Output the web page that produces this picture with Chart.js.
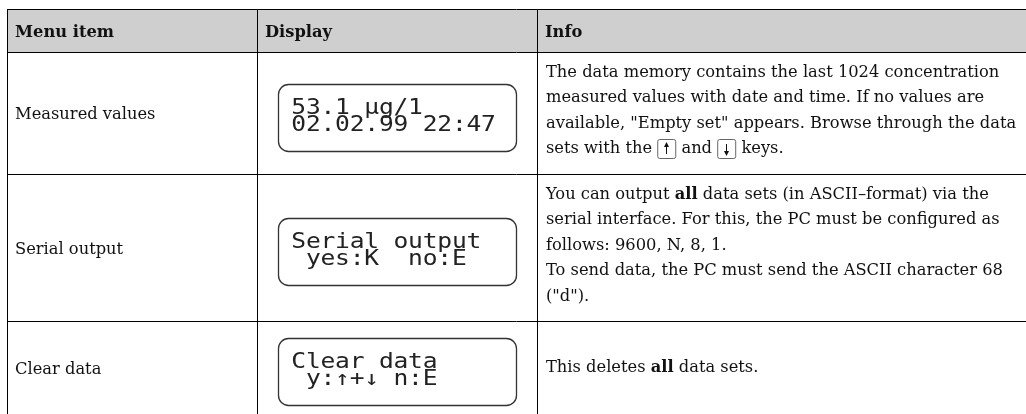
<!DOCTYPE html>
<html>
<head>
<meta charset="utf-8">
<script src="https://cdn.jsdelivr.net/npm/chart.js@4"></script>
<style>
    html, body { margin: 0; padding: 0; background: #fff; }
    #wrap { position: relative; width: 1026px; height: 414px; }
</style>
</head>
<body>
<div id="wrap"><canvas id="table"></canvas></div>
<script>
'use strict';

const headers = ['Menu item', 'Display', 'Info'];

const menuItems = ['Measured values', 'Serial output', 'Clear data'];

// two lines of the instrument display for every menu item
const displayLines = [
    ['53.1 µg/1', '02.02.99 22:47'],
    ['Serial output', ' yes:K  no:E'],
    ['Clear data', ' y:↑+↓ n:E'],
];

// **bold** and [key] are marked inline
const infoLines = [
    [
        'The data memory contains the last 1024 concentration',
        'measured values with date and time. If no values are',
        'available, "Empty set" appears. Browse through the data',
        'sets with the [↑] and [↓] keys.',
    ],
    [
        'You can output **all** data sets (in ASCII–format) via the',
        'serial interface. For this, the PC must be configured as',
        'follows: 9600, N, 8, 1.',
        'To send data, the PC must send the ASCII character 68',
        '("d").',
    ],
    [
        'This deletes **all** data sets.',
    ],
];

// table grid lines (page pixels)
const colEdges = [7, 257, 537];
const rowEdges = [9, 52, 174, 321];

const SERIF = '"DejaVu Serif", serif';
const MONO = '"DejaVu Sans Mono", monospace';
const TEXT_SIZE = 16.3;
const LINE_H = 25.5;
const LCD_PITCH = 14.6;


function drawKey(ctx, x, baseline, up) {
    let w = 18, h = 19, top = baseline - 14;
    ctx.save();
    ctx.strokeStyle = '#666';
    ctx.lineWidth = 1;
    ctx.beginPath();
    ctx.roundRect(x + 0.5, top + 0.5, w, h, 2);
    ctx.stroke();
    let cx = Math.round(x + w / 2) + 0.5;
    ctx.strokeStyle = '#111';
    ctx.beginPath();
    ctx.moveTo(cx, top + 5);
    ctx.lineTo(cx, top + 15);
    ctx.stroke();
    ctx.fillStyle = '#111';
    ctx.beginPath();
    if (up) {
        ctx.moveTo(cx, top + 3); ctx.lineTo(cx - 2.5, top + 8); ctx.lineTo(cx + 2.5, top + 8);
    } else {
        ctx.moveTo(cx, top + 17); ctx.lineTo(cx - 2.5, top + 12); ctx.lineTo(cx + 2.5, top + 12);
    }
    ctx.fill();
    ctx.restore();
    return w + 1;
}

function drawRichLine(ctx, text, x, baseline) {
    let parts = text.split(/(\*\*[^*]+\*\*|\[[^\]]+\])/).filter(p => p.length);
    for (let p of parts) {
        if (p.startsWith('**')) {
            ctx.font = `bold ${TEXT_SIZE}px ${SERIF}`;
            p = p.slice(2, -2);
        } else if (p.startsWith('[')) {
            x += drawKey(ctx, x, baseline, p === '[↑]');
            continue;
        } else {
            ctx.font = `${TEXT_SIZE}px ${SERIF}`;
        }
        ctx.fillText(p, x, baseline);
        x += ctx.measureText(p).width;
    }
}

const tablePlugin = {
    id: 'tableCells',

    beforeDraw(chart) {
        let {ctx, chartArea, scales: {y}} = chart;
        let top = y.getPixelForValue(rowEdges[0]);
        let bot = y.getPixelForValue(rowEdges[1]);
        ctx.save();
        ctx.fillStyle = '#cfcfcf';
        ctx.fillRect(chartArea.left, top, chartArea.right - chartArea.left, bot - top);
        ctx.restore();
    },

    afterDraw(chart) {
        let {ctx, chartArea, scales: {x, y}} = chart;
        let colX = colEdges.map(v => x.getPixelForValue(v));
        let rowY = rowEdges.map(v => y.getPixelForValue(v)).concat([chartArea.bottom]);

        ctx.save();
        ctx.fillStyle = '#111';
        ctx.textBaseline = 'alphabetic';

        // header
        let hMid = (rowY[0] + rowY[1]) / 2;
        ctx.font = `bold ${TEXT_SIZE}px ${SERIF}`;
        headers.forEach((h, i) => ctx.fillText(h, colX[i] + 8, hMid + 6));

        menuItems.forEach((item, i) => {
            let top = rowY[i + 1], bot = rowY[i + 2];
            let mid = (top + bot) / 2;

            // menu item
            ctx.fillStyle = '#111';
            ctx.font = `${TEXT_SIZE}px ${SERIF}`;
            ctx.fillText(item, colX[0] + 8, mid + 6);

            // display box
            let bx = colX[1] + 21, bw = colX[2] - colX[1] - 42, bh = 67;
            let by = Math.round(mid + 4 - bh / 2);
            ctx.strokeStyle = '#333';
            ctx.lineWidth = 1.3;
            ctx.beginPath();
            ctx.roundRect(bx + 0.5, by + 0.5, bw, bh, 10);
            ctx.stroke();

            // display characters, stretched a little to look like the LCD cells
            ctx.font = '20.5px ' + MONO;
            ctx.fillStyle = '#222';
            ctx.textAlign = 'center';
            displayLines[i].forEach((line, k) => {
                [...line].forEach((ch, c) => {
                    ctx.save();
                    ctx.translate(bx + 20.7 + c * LCD_PITCH, by + 30 + k * 17);
                    ctx.scale(1.2, 1);
                    ctx.fillText(ch, 0, 0);
                    ctx.restore();
                });
            });
            ctx.textAlign = 'left';

            // info text: several lines start near the top, a single line is centred
            ctx.fillStyle = '#111';
            let lines = infoLines[i];
            let first = lines.length > 1 ? top + 24.5 : mid + 4;
            lines.forEach((line, k) => drawRichLine(ctx, line, colX[2] + 9, first + k * LINE_H));
        });
        ctx.restore();
    }
};

const gridScale = (edges, lo, hi, horizontal) => ({
    type: 'linear',
    min: lo,
    max: hi,
    reverse: !horizontal,
    afterBuildTicks: (s) => { s.ticks = edges.map(v => ({value: v})); },
    afterFit: (s) => { if (horizontal) { s.height = 0; } else { s.width = 0; } },
    ticks: {display: false},
    grid: {color: '#000', lineWidth: 1, drawTicks: false},
    border: {display: false},
});

new Chart(document.getElementById('table'), {
    type: 'scatter',
    data: {datasets: []},
    options: {
        responsive: true,
        maintainAspectRatio: false,
        animation: false,
        events: [],
        layout: {padding: {left: colEdges[0], top: rowEdges[0], right: 0, bottom: 0}},
        plugins: {legend: {display: false}, tooltip: {enabled: false}},
        scales: {
            x: gridScale(colEdges, colEdges[0], 1026, true),
            y: gridScale(rowEdges, rowEdges[0], 414, false),
        },
    },
    plugins: [tablePlugin],
});
</script>
</body>
</html>
